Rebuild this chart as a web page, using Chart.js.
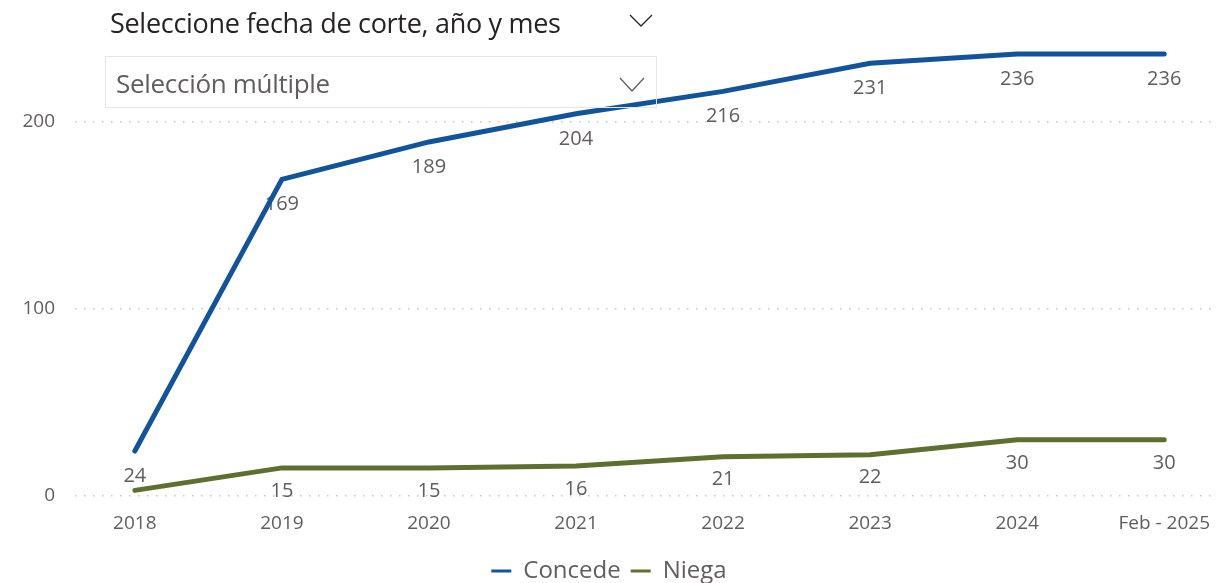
<!DOCTYPE html>
<html><head><meta charset="utf-8">
<script src="https://cdn.jsdelivr.net/npm/chart.js@4/dist/chart.umd.min.js"></script>
<style>
html,body{margin:0;padding:0;background:#fff;}
#wrap{position:relative;width:1218px;height:583px;overflow:hidden;}
#cv{position:absolute;left:0;top:0;}
.title{position:absolute;left:110px;top:4px;font-size:27px;font-family:"Open Sans",sans-serif;color:#252423;white-space:nowrap;letter-spacing:-0.3px;}
.box{position:absolute;left:105px;top:56px;width:550px;height:50px;border:1.5px solid #e6e6e6;box-sizing:content-box;}
.boxtext{position:absolute;left:116px;top:65px;font-size:26px;font-family:"Open Sans",sans-serif;color:#605E5C;white-space:nowrap;letter-spacing:-0.3px;}
svg.chev{position:absolute;}
</style></head>
<body>
<div id="wrap">
<canvas id="cv" width="1218" height="583"></canvas>
<div class="title">Seleccione fecha de corte, año y mes</div>
<svg class="chev" style="left:629px;top:13px" width="26" height="16"><polyline points="1,2 12,13 23,2" fill="none" stroke="#252423" stroke-width="1.3"/></svg>
<div class="box"></div>
<div class="boxtext">Selección múltiple</div>
<svg class="chev" style="left:619px;top:76px" width="28" height="18"><polyline points="1,2 13,15 25,2" fill="none" stroke="#605E5C" stroke-width="1.3"/></svg>
</div>
<script>
const categories = ['2018','2019','2020','2021','2022','2023','2024','Feb - 2025'];
const concede = [24,169,189,204,216,231,236,236];
const niega = [3,15,15,16,21,22,30,30];
const niegaHiddenLabels = [0];
const yTicks = [0,100,200];

const valueLabels = {
  id:'valueLabels',
  beforeDatasetsDraw(chart){
    const ctx = chart.ctx;
    ctx.save();
    ctx.font = '20px "Open Sans"';
    ctx.fillStyle = '#605E5C';
    ctx.textAlign = 'center';
    ctx.textBaseline = 'middle';
    chart.data.datasets.forEach((ds,di)=>{
      const meta = chart.getDatasetMeta(di);
      meta.data.forEach((pt,i)=>{
        if (ds.hiddenLabels && ds.hiddenLabels.includes(i)) return;
        ctx.fillText(String(ds.data[i].y), pt.x, pt.y + ds.labelOffset);
      });
    });
    ctx.restore();
  }
};

new Chart(document.getElementById('cv'), {
  type:'line',
  data:{
    datasets:[
      {label:'Concede', data:concede.map((v,i)=>({x:i,y:v})), borderColor:'#12549B', backgroundColor:'#12549B', borderWidth:5, pointRadius:0, borderCapStyle:'round', labelOffset:25},
      {label:'Niega', data:niega.map((v,i)=>({x:i,y:v})), borderColor:'#5E7030', backgroundColor:'#5E7030', borderWidth:5, pointRadius:0, borderCapStyle:'round', labelOffset:23, hiddenLabels:niegaHiddenLabels}
    ]
  },
  options:{
    responsive:false,
    animation:false,
    layout:{padding:{top:12,left:0,right:0,bottom:-10}},
    plugins:{
      tooltip:{enabled:false},
      legend:{
        position:'bottom',
        labels:{
          boxWidth:20, boxHeight:3, padding:10,
          color:'#605E5C',
          font:{family:'"Open Sans"', size:24},
          generateLabels(chart){
            return chart.data.datasets.map((ds,i)=>({text:ds.label, fillStyle:ds.borderColor, strokeStyle:ds.borderColor, lineWidth:0, datasetIndex:i, fontColor:'#605E5C'}));
          }
        }
      }
    },
    scales:{
      x:{
        type:'linear',
        min:-0.407, max:7.346,
        afterBuildTicks(scale){ scale.ticks = categories.map((c,i)=>({value:i})); },
        afterFit(scale){ scale.height = 53; },
        ticks:{autoSkip:false, maxRotation:0, padding:8, color:'#605E5C', font:{family:'"Open Sans"', size:19},
          callback(v){ return categories[v] ?? ''; }},
        grid:{display:false},
        border:{display:false}
      },
      y:{
        min:0, max:248,
        afterBuildTicks(scale){ scale.ticks = yTicks.map(v=>({value:v})); },
        afterFit(scale){ scale.width = 75; },
        ticks:{padding:20, color:'#605E5C', font:{family:'"Open Sans"', size:19}},
        grid:{color:'#c4c4c4', lineWidth:1.5, drawTicks:false},
        border:{display:false, dash:[1.5,7.5]}
      }
    }
  },
  plugins:[valueLabels]
});
</script>
</body></html>
